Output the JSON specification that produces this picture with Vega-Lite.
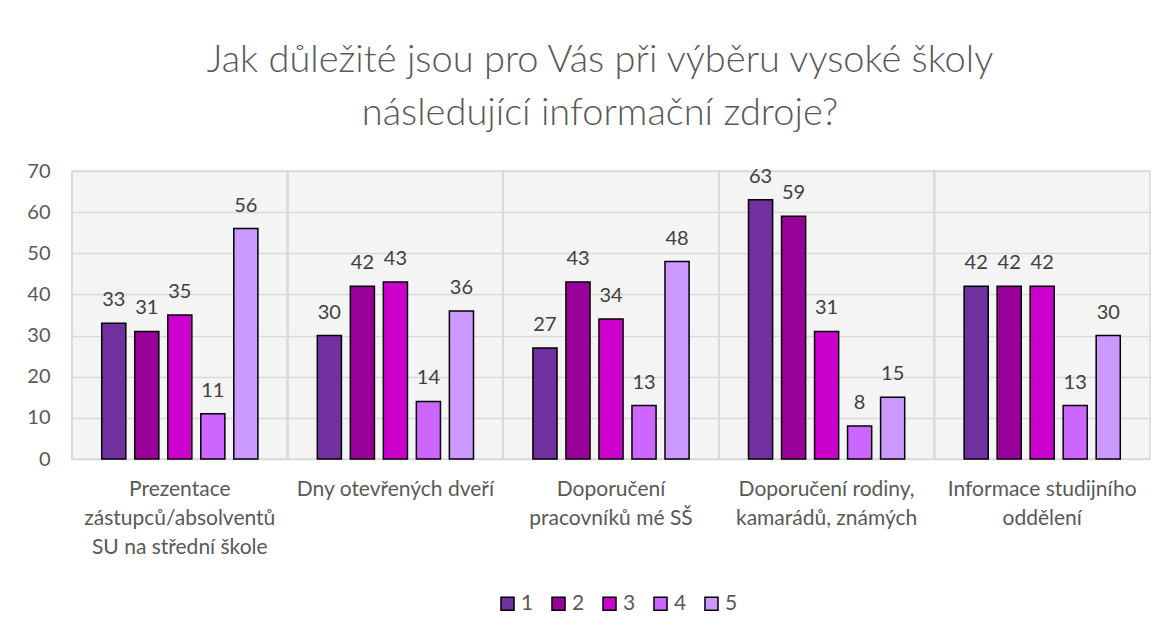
{
  "$schema": "https://vega.github.io/schema/vega-lite/v6.json",
  "width": 1078,
  "height": 288,
  "autosize": {"type": "none"},
  "padding": {"left": 72, "top": 171, "right": 16, "bottom": 174},
  "background": "white",
  "title": {
    "text": ["Jak důležité jsou pro Vás při výběru vysoké školy", "následující informační zdroje?"],
    "font": "Lato",
    "fontSize": 38,
    "fontWeight": 300,
    "color": "#595959",
    "anchor": "middle",
    "dx": -11,
    "lineHeight": 53,
    "offset": 28
  },
  "config": {
    "view": {"fill": "#f4f4f4", "stroke": "#d9d9d9", "strokeWidth": 1.5},
    "font": "Lato"
  },
  "data": {
    "values": [
      {"zdroj": "Prezentace|zástupců/absolventů|SU na střední škole", "hodnoceni": "1", "pocet": 33},
      {"zdroj": "Prezentace|zástupců/absolventů|SU na střední škole", "hodnoceni": "2", "pocet": 31},
      {"zdroj": "Prezentace|zástupců/absolventů|SU na střední škole", "hodnoceni": "3", "pocet": 35},
      {"zdroj": "Prezentace|zástupců/absolventů|SU na střední škole", "hodnoceni": "4", "pocet": 11},
      {"zdroj": "Prezentace|zástupců/absolventů|SU na střední škole", "hodnoceni": "5", "pocet": 56},
      {"zdroj": "Dny otevřených dveří", "hodnoceni": "1", "pocet": 30},
      {"zdroj": "Dny otevřených dveří", "hodnoceni": "2", "pocet": 42},
      {"zdroj": "Dny otevřených dveří", "hodnoceni": "3", "pocet": 43},
      {"zdroj": "Dny otevřených dveří", "hodnoceni": "4", "pocet": 14},
      {"zdroj": "Dny otevřených dveří", "hodnoceni": "5", "pocet": 36},
      {"zdroj": "Doporučení|pracovníků mé SŠ", "hodnoceni": "1", "pocet": 27},
      {"zdroj": "Doporučení|pracovníků mé SŠ", "hodnoceni": "2", "pocet": 43},
      {"zdroj": "Doporučení|pracovníků mé SŠ", "hodnoceni": "3", "pocet": 34},
      {"zdroj": "Doporučení|pracovníků mé SŠ", "hodnoceni": "4", "pocet": 13},
      {"zdroj": "Doporučení|pracovníků mé SŠ", "hodnoceni": "5", "pocet": 48},
      {"zdroj": "Doporučení rodiny,|kamarádů, známých", "hodnoceni": "1", "pocet": 63},
      {"zdroj": "Doporučení rodiny,|kamarádů, známých", "hodnoceni": "2", "pocet": 59},
      {"zdroj": "Doporučení rodiny,|kamarádů, známých", "hodnoceni": "3", "pocet": 31},
      {"zdroj": "Doporučení rodiny,|kamarádů, známých", "hodnoceni": "4", "pocet": 8},
      {"zdroj": "Doporučení rodiny,|kamarádů, známých", "hodnoceni": "5", "pocet": 15},
      {"zdroj": "Informace studijního|oddělení", "hodnoceni": "1", "pocet": 42},
      {"zdroj": "Informace studijního|oddělení", "hodnoceni": "2", "pocet": 42},
      {"zdroj": "Informace studijního|oddělení", "hodnoceni": "3", "pocet": 42},
      {"zdroj": "Informace studijního|oddělení", "hodnoceni": "4", "pocet": 13},
      {"zdroj": "Informace studijního|oddělení", "hodnoceni": "5", "pocet": 30}
    ]
  },
  "layer": [
    {
      "mark": {"type": "bar", "stroke": "black", "strokeWidth": 1.5},
      "encoding": {
        "x": {
          "field": "zdroj", "type": "nominal", "sort": null, "title": null,
          "scale": {"paddingInner": 0, "paddingOuter": 0},
          "axis": {
            "bandPosition": 0.5,
            "labelExpr": "split(datum.label, '|')",
            "labelAngle": 0,
            "labelFont": "Lato",
            "labelFontSize": 21,
            "labelColor": "#595959",
            "labelLineHeight": 29,
            "labelPadding": 19,
            "labelBaseline": "top",
            "ticks": false,
            "domain": false,
            "grid": false,
            "labelLimit": 300
          }
        },
        "xOffset": {"field": "hodnoceni", "type": "nominal", "scale": {"paddingInner": 0.27, "paddingOuter": 0.9}},
        "y": {
          "field": "pocet", "type": "quantitative", "title": null,
          "scale": {"domain": [0, 70]},
          "axis": {
            "values": [0, 10, 20, 30, 40, 50, 60, 70],
            "labelFont": "Lato",
            "labelFontSize": 20,
            "labelColor": "#595959",
            "labelPadding": 22,
            "ticks": false,
            "domain": false,
            "gridColor": "#d9d9d9",
            "gridWidth": 1.5
          }
        },
        "color": {
          "field": "hodnoceni", "type": "nominal", "title": null,
          "scale": {"domain": ["1", "2", "3", "4", "5"], "range": ["#7030A0", "#990099", "#CC00CC", "#CC66FF", "#CC99FF"]},
          "legend": {
            "orient": "none",
            "legendX": 425,
            "legendY": 422,
            "direction": "horizontal",
            "symbolType": "square",
            "symbolSize": 170,
            "symbolStrokeColor": "black",
            "symbolStrokeWidth": 1.5,
            "labelFont": "Lato",
            "labelFontSize": 21,
            "labelColor": "#595959",
            "columnPadding": 14,
            "labelOffset": 3
          }
        }
      }
    },
    {
      "mark": {"type": "text", "baseline": "alphabetic", "dy": -17, "font": "Lato", "fontSize": 20, "color": "#404040"},
      "encoding": {
        "x": {"field": "zdroj", "type": "nominal", "sort": null},
        "xOffset": {"field": "hodnoceni", "type": "nominal"},
        "y": {"field": "pocet", "type": "quantitative"},
        "text": {"field": "pocet", "type": "quantitative"}
      }
    },
    {
      "mark": {"type": "rule", "color": "#d9d9d9", "strokeWidth": 1.5},
      "encoding": {
        "x": {"field": "zdroj", "type": "nominal", "sort": null, "bandPosition": 0, "axis": {"bandPosition": 0.5}}
      }
    }
  ]
}
